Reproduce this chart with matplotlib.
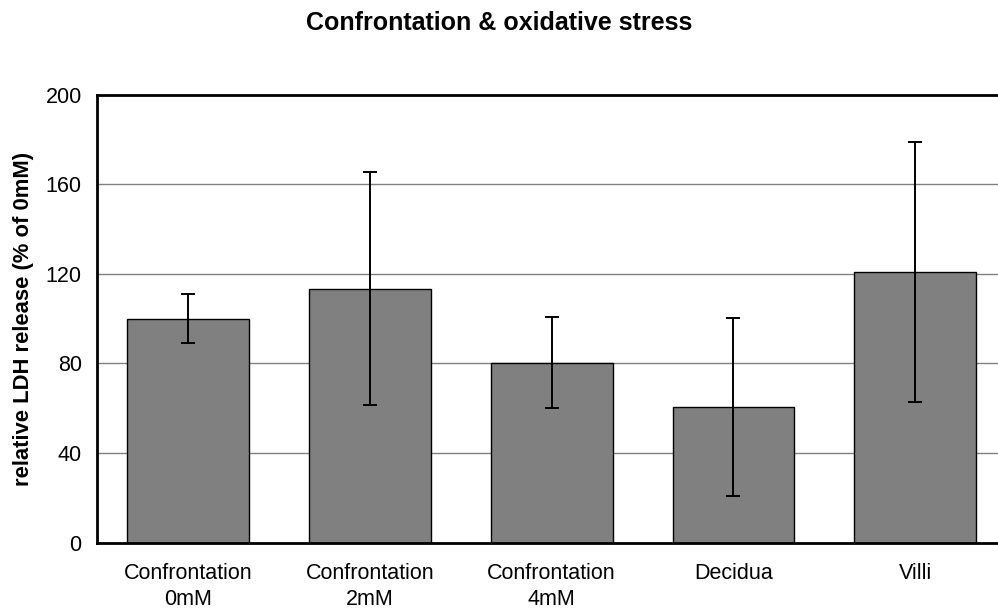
import matplotlib
matplotlib.use("Agg")
import matplotlib.pyplot as plt
import numpy as np

categories = ["Confrontation\n0mM", "Confrontation\n2mM", "Confrontation\n4mM", "Decidua", "Villi"]
ldh_mean = [100, 113.4, 80.4, 60.7, 120.9]
ldh_err = [11, 52, 20.2, 39.7, 58]

plt.rcParams.update({
    "font.family": ["Liberation Sans", "DejaVu Sans"],
    "font.size": 15.5,
})

fig = plt.figure(figsize=(9.98, 6.14), dpi=100)
ax = fig.add_axes([0.0972, 0.1162, 0.911, 0.7297])

x = np.arange(len(categories))
ax.bar(x, ldh_mean, width=0.67, color="#808080", edgecolor="black", linewidth=1.0, zorder=2)
ax.errorbar(x, ldh_mean, yerr=ldh_err, fmt="none", ecolor="black", elinewidth=1.4,
            capsize=4.8, capthick=1.4, zorder=3)

ax.set_xlim(-0.5, len(categories) - 0.5)
ax.set_ylim(0, 200)
ax.set_yticks([0, 40, 80, 120, 160, 200])
ax.yaxis.grid(True, color="#808080", lw=1.0, zorder=0)
ax.set_axisbelow(True)
ax.set_xticks(x)
ax.set_xticklabels(categories, linespacing=1.3)
ax.tick_params(axis="both", length=0, labelsize=15.5)
ax.tick_params(axis="x", pad=15)
ax.tick_params(axis="y", pad=11)
for side in ["left", "bottom", "top", "right"]:
    ax.spines[side].set_linewidth(2.0)
    ax.spines[side].set_color("black")

ax.set_ylabel("relative LDH release (% of 0mM)", fontsize=15.8, fontweight="bold", labelpad=8)
fig.text(0.5, 0.963, "Confrontation & oxidative stress", ha="center", va="center",
         fontsize=18, fontweight="bold")

fig.savefig("out.png", dpi=100)
